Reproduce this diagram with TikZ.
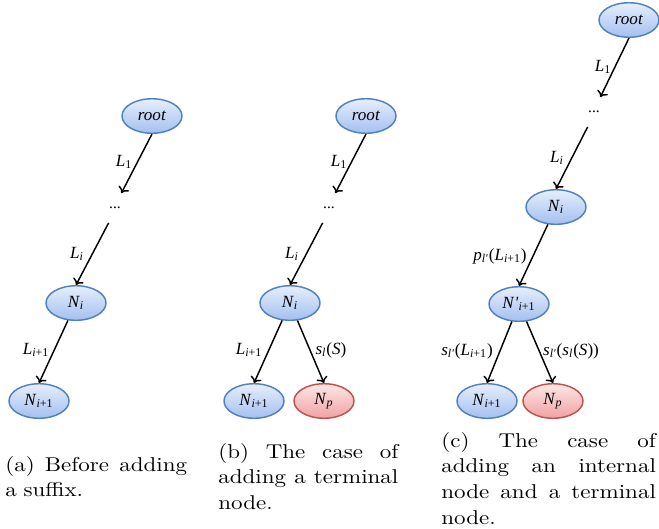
\documentclass[tikz,border=0pt]{standalone}
\usepackage{fontspec}
\usetikzlibrary{shapes.geometric,arrows.meta}
\newfontfamily\labfont{Liberation Serif}
\newfontfamily\capfont{lmroman10-regular.otf}[FakeStretch=1.15]
\newcommand{\lbl}[2]{\textit{#1}\textsubscript{#2}}
\newcommand{\jline}[2]{\leavevmode\hbox to #1{\spaceskip=4pt plus 30pt\relax #2}}
\definecolor{nodeedge}{HTML}{4F81BD}
\definecolor{nodetop}{HTML}{E6EEFC}
\definecolor{nodebot}{HTML}{A3C0F0}
\definecolor{termedge}{HTML}{C0504D}
\definecolor{termtop}{HTML}{FDE6E6}
\definecolor{termbot}{HTML}{F0A2A2}
\tikzset{
  >={To[length=3.2pt,width=6.4pt]},
  treenode/.style={ellipse, draw=nodeedge, line width=0.8pt, top color=nodetop,
    bottom color=nodebot, minimum width=33pt, minimum height=19pt, inner sep=0pt,
    font=\labfont\fontsize{9.4}{10}\selectfont},
  termnode/.style={treenode, draw=termedge, top color=termtop, bottom color=termbot},
  dotsnode/.style={minimum width=6.6pt, minimum height=16pt, inner sep=0pt,
    font=\labfont\fontsize{8.5}{10}\selectfont},
  edgelabel/.style={inner sep=0pt, font=\labfont\fontsize{9.4}{10}\selectfont},
  branch/.style={->, line width=0.8pt},
  subcap/.style={anchor=base west, inner sep=0pt, align=left,
    font=\capfont\fontsize{11}{14.2}\selectfont}
}
\begin{document}
\begin{tikzpicture}[x=0.55pt, y=-0.55pt]
      \useasboundingbox (0,0) rectangle (659,528);
      %Panel a
      \node[treenode] (aroot) at (152,116) {\textit{root}};
      \node[dotsnode] (adots) at (115,208) {...};
      \node[treenode] (aNi) at (76,303) {\lbl{N}{\textit{i}}};
      \node[treenode] (aNii) at (39,401) {\lbl{N}{\textit{i}+1}};
      \draw[branch] (aroot.south) -- (adots.north east);
      \draw[branch] (adots.south west) -- (aNi.north);
      \draw[branch] (aNi) -- (aNii.north);
      \node[edgelabel] (aL1) at (124,162) {\lbl{L}{1}};
      \node[edgelabel] (aLi) at (77,254) {\lbl{L}{\textit{i}}};
      \node[edgelabel] (aLii) at (36,350) {\lbl{L}{\textit{i}+1}};
      %Panel b
      \node[treenode] (broot) at (366,116) {\textit{root}};
      \node[dotsnode] (bdots) at (329,208) {...};
      \node[treenode] (bNi) at (290,303) {\lbl{N}{\textit{i}}};
      \node[treenode] (bNii) at (254,401) {\lbl{N}{\textit{i}+1}};
      \node[termnode] (bNp) at (324,401) {\lbl{N}{\textit{p}}};
      \draw[branch] (broot.south) -- (bdots.north east);
      \draw[branch] (bdots.south west) -- (bNi.north);
      \draw[branch] (bNi) -- (bNii.north);
      \draw[branch] (bNi) -- (bNp.north);
      \node[edgelabel] (bL1) at (339,162) {\lbl{L}{1}};
      \node[edgelabel] (bLi) at (292,254) {\lbl{L}{\textit{i}}};
      \node[edgelabel] (bLii) at (249,350) {\lbl{L}{\textit{i}+1}};
      \node[edgelabel] (bsl) at (331,350) {\lbl{s}{\textit{l}}(\textit{S})};
      %Panel c
      \node[treenode] (croot) at (629,20) {\textit{root}};
      \node[dotsnode] (cdots) at (594,112) {...};
      \node[treenode] (cNi) at (556,207) {\lbl{N}{\textit{i}}};
      \node[treenode] (cNn) at (519,304) {\lbl{N}{}\kern-0.5pt\textit{'}\textsubscript{\textit{i}+1}};
      \node[treenode] (cNii) at (487,401) {\lbl{N}{\textit{i}+1}};
      \node[termnode] (cNp) at (553,401) {\lbl{N}{\textit{p}}};
      \draw[branch] (croot.south) -- (cdots.north east);
      \draw[branch] (cdots.south west) -- (cNi.north);
      \draw[branch] (cNi) -- (cNn.north);
      \draw[branch] (cNn) -- (cNii.north);
      \draw[branch] (cNn) -- (cNp.north);
      \node[edgelabel] (cL1) at (603,67) {\lbl{L}{1}};
      \node[edgelabel] (cLi) at (557,158) {\lbl{L}{\textit{i}}};
      \node[edgelabel] (cpl) at (500,256) {\lbl{p}{\textit{l'}}(\lbl{L}{\textit{i}+1})};
      \node[edgelabel] (csL) at (467,351) {\lbl{s}{\textit{l'}}(\lbl{L}{\textit{i}+1})};
      \node[edgelabel] (css) at (571,351) {\lbl{s}{\textit{l'}}(\lbl{s}{\textit{l}}(\textit{S}))};
      %Captions
      \node[subcap, text width=100pt] (capa) at (5,471)
        {\jline{100pt}{(a) Before adding}\\a suffix.};
      \node[subcap, text width=99pt] (capb) at (218,458)
        {\jline{99pt}{(b) The case of}\\\jline{99pt}{adding a terminal}\\node.};
      \node[subcap, text width=118pt] (capc) at (441,447)
        {\jline{118pt}{(c) The case of}\\\jline{118pt}{adding an internal}\\\jline{118pt}{node and a terminal}\\node.};
\end{tikzpicture}
\end{document}
